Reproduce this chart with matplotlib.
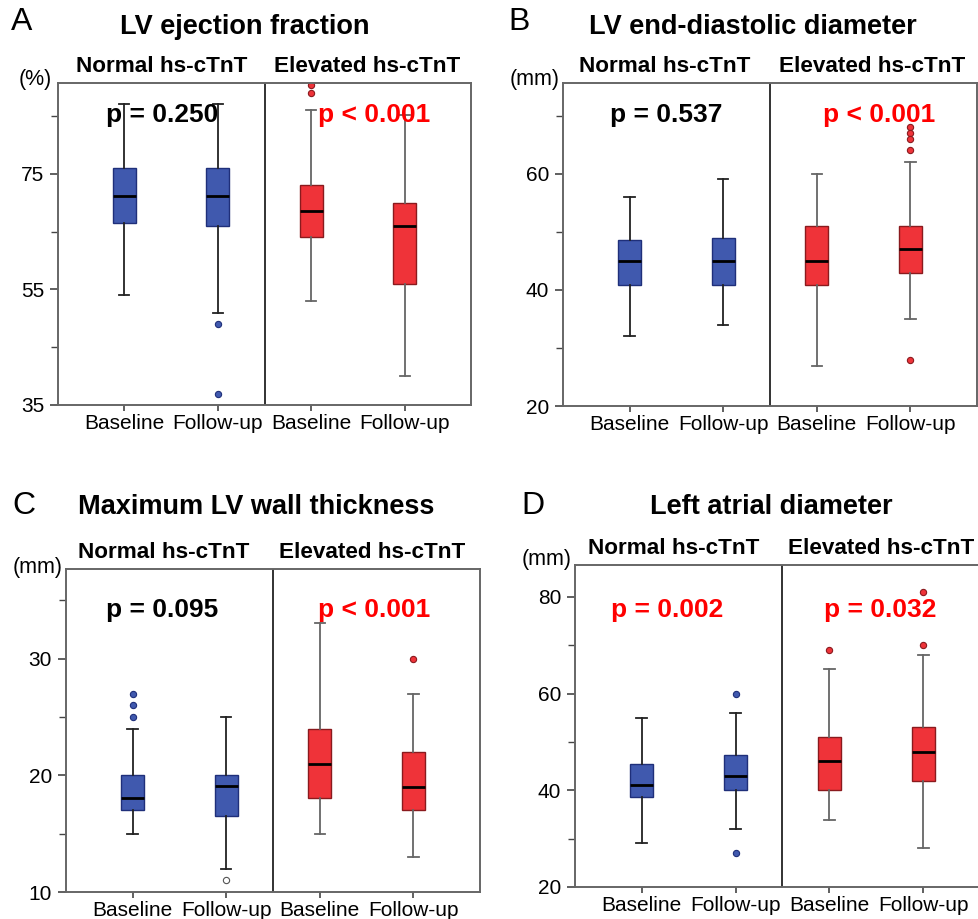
import matplotlib
matplotlib.use("Agg")
import matplotlib.pyplot as plt

plt.rcParams['font.family'] = ['Liberation Sans', 'DejaVu Sans']

W, H = 979, 919

groups = ["Normal hs-cTnT", "Elevated hs-cTnT"]
xlabels = ["Baseline", "Follow-up", "Baseline", "Follow-up"]

# Panel A: LV ejection fraction (%)
ef_whislo = [54.0, 51.0, 53.0, 40.0]
ef_q1 = [66.5, 66.0, 64.1, 56.0]
ef_med = [71.1, 71.1, 68.6, 66.0]
ef_q3 = [76.0, 76.0, 73.0, 70.0]
ef_whishi = [87.0, 87.0, 86.0, 85.1]
ef_fliers = [[], [49.0, 36.9], [90.3, 89.0], []]

# Panel B: LV end-diastolic diameter (mm)
edd_whislo = [32.0, 34.0, 26.9, 35.0]
edd_q1 = [40.9, 40.9, 40.9, 42.9]
edd_med = [44.9, 44.9, 44.9, 47.0]
edd_q3 = [48.5, 48.9, 50.9, 50.9]
edd_whishi = [56.0, 59.0, 60.0, 62.0]
edd_fliers = [[], [], [], [68.0, 67.0, 66.0, 64.0, 27.9]]

# Panel C: Maximum LV wall thickness (mm)
wt_whislo = [15.0, 12.0, 15.0, 13.0]
wt_q1 = [17.0, 16.5, 18.05, 17.0]
wt_med = [18.05, 19.05, 21.0, 19.0]
wt_q3 = [20.0, 20.0, 24.0, 22.0]
wt_whishi = [24.0, 25.0, 33.05, 27.0]
wt_fliers = [[27.0, 26.0, 25.0], [11.0], [], [30.0]]

# Panel D: Left atrial diameter (mm)
la_whislo = [29.0, 32.0, 33.9, 28.0]
la_q1 = [38.6, 40.0, 40.0, 42.0]
la_med = [41.0, 43.0, 46.0, 48.0]
la_q3 = [45.4, 47.4, 51.0, 53.0]
la_whishi = [55.0, 56.0, 65.0, 68.0]
la_fliers = [[], [60.0, 27.0], [69.0], [81.0, 70.0]]

p_texts = {
    "A": ["p = 0.250", "p < 0.001"],
    "B": ["p = 0.537", "p < 0.001"],
    "C": ["p = 0.095", "p < 0.001"],
    "D": ["p = 0.002", "p = 0.032"],
}
p_colors = {
    "A": ["black", "red"],
    "B": ["black", "red"],
    "C": ["black", "red"],
    "D": ["red", "red"],
}

BLUE = "#4059AE"
BLUE_EDGE = "#1F2F7A"
RED = "#EF3339"
RED_EDGE = "#8A1A1E"

fig = plt.figure(figsize=(W / 100, H / 100), dpi=100)


def px_axes(left, right, top, bottom):
    return fig.add_axes([left / W, 1 - bottom / H, (right - left) / W, (bottom - top) / H])


def fx(px):
    return px / W


def fy(py):
    return 1 - py / H


def panel(box, letter, title, unit, data, ylim, majors, minors, layout):
    ax = px_axes(*box)
    whislo, q1, med, q3, whishi, fliers = data
    stats = []
    for i in range(4):
        stats.append(dict(med=med[i], q1=q1[i], q3=q3[i], whislo=whislo[i],
                          whishi=whishi[i], fliers=fliers[i]))
    for i, st in enumerate(stats):
        normal = i < 2
        face = BLUE if normal else RED
        edge = BLUE_EDGE if normal else RED_EDGE
        wcol = "#222222" if normal else "#666666"
        flier_face = face
        flier_edge = edge
        if letter == "C" and i == 1:
            flier_face = "white"
            flier_edge = "#555555"
        ax.bxp([st], positions=[i], widths=0.245, patch_artist=True, showfliers=True,
               boxprops=dict(facecolor=face, edgecolor=edge, linewidth=1.0),
               medianprops=dict(color="black", linewidth=2.0),
               whiskerprops=dict(color=wcol, linewidth=1.3),
               capprops=dict(color=wcol, linewidth=1.3),
               capwidths=0.11,
               flierprops=dict(marker="o", markersize=4.5, markerfacecolor=flier_face,
                               markeredgecolor=flier_edge, markeredgewidth=0.8,
                               linestyle="none"))
    ax.set_xlim(-0.71, 3.71)
    ax.set_ylim(*ylim)
    ax.axvline(1.5, color="#222222", linewidth=1.3)
    ax.set_xticks(range(4))
    ax.set_xticklabels(xlabels, fontsize=15)
    ax.set_yticks(majors)
    ax.set_yticklabels([str(m) for m in majors], fontsize=15)
    ax.set_yticks(minors, minor=True)
    ax.tick_params(axis="y", which="major", length=6, width=1.2, color="#444444", pad=4)
    ax.tick_params(axis="y", which="minor", length=5, width=1.0, color="#444444")
    ax.tick_params(axis="x", which="major", length=4.5, width=1.2, color="#444444", pad=2)
    for s in ax.spines.values():
        s.set_color("#666666")
        s.set_linewidth(1.4)
    ax.set_facecolor("white")

    (lx, ly), (tx, ty), (ux, uy), (g1x, g2x, gy), (p1x, p2x, py) = layout
    fig.text(fx(lx), fy(ly), letter, fontsize=23, ha="center", va="center")
    fig.text(fx(tx), fy(ty), title, fontsize=19.5, fontweight="bold", ha="center", va="center")
    fig.text(fx(ux), fy(uy), unit, fontsize=15.5, ha="center", va="center")
    fig.text(fx(g1x), fy(gy), groups[0], fontsize=16.2, fontweight="bold", ha="center", va="center")
    fig.text(fx(g2x), fy(gy), groups[1], fontsize=16.2, fontweight="bold", ha="center", va="center")
    p = p_texts[letter]
    c = p_colors[letter]
    fig.text(fx(p1x), fy(py), p[0], fontsize=19, fontweight="bold", color=c[0], ha="center", va="center")
    fig.text(fx(p2x), fy(py), p[1], fontsize=19, fontweight="bold", color=c[1], ha="center", va="center")
    return ax


panel((58, 471, 83, 405), "A", "LV ejection fraction", "(%)",
      (ef_whislo, ef_q1, ef_med, ef_q3, ef_whishi, ef_fliers),
      (35, 90.7), [35, 55, 75], [45, 65, 85],
      ((22, 22), (245, 27), (35, 79), (162, 367, 67), (162, 374, 115)))

panel((563, 977, 83, 406), "B", "LV end-diastolic diameter", "(mm)",
      (edd_whislo, edd_q1, edd_med, edd_q3, edd_whishi, edd_fliers),
      (20, 75.6), [20, 40, 60], [30, 50, 70],
      ((519, 22), (753, 27), (535, 79), (665, 872, 67), (666, 879, 115)))

panel((66, 480, 569, 892), "C", "Maximum LV wall thickness", "(mm)",
      (wt_whislo, wt_q1, wt_med, wt_q3, wt_whishi, wt_fliers),
      (10, 37.7), [10, 20, 30], [15, 25, 35],
      ((24, 506), (256, 507), (38, 567), (164, 372, 553), (162, 374, 610)))

panel((575, 990, 565, 887), "D", "Left atrial diameter", "(mm)",
      (la_whislo, la_q1, la_med, la_q3, la_whishi, la_fliers),
      (20, 86.6), [20, 40, 60, 80], [30, 50, 70],
      ((533, 506), (771, 507), (547, 560), (674, 881, 549), (667, 880, 610)))

fig.savefig("out.png", dpi=100, facecolor="white")
